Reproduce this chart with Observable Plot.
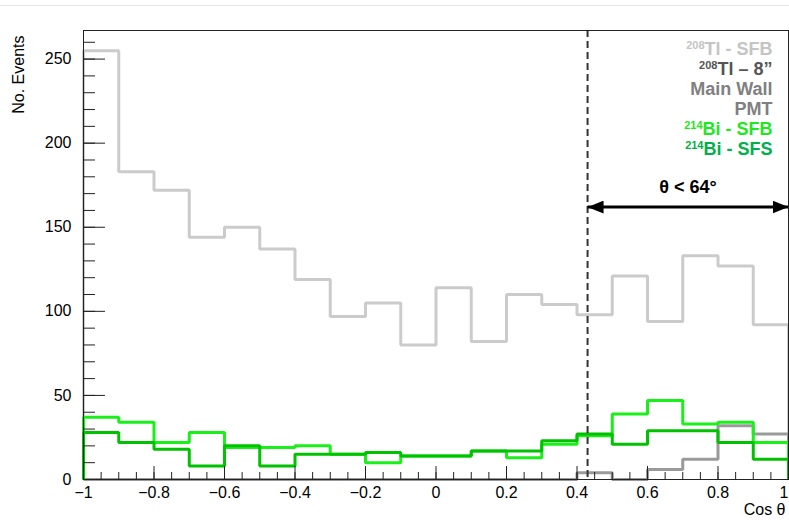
<!DOCTYPE html>
<html><head><meta charset="utf-8">
<script src="https://cdn.jsdelivr.net/npm/d3@7"></script>
<script src="https://cdn.jsdelivr.net/npm/@observablehq/plot@0.6"></script>
<style>
body{margin:0;background:#fff;font-family:"Liberation Sans",Arial,Helvetica,sans-serif;}
#wrap{position:relative;width:789px;height:520px;}
#topline{position:absolute;left:0;top:5px;width:789px;height:0;border-top:1px solid #e6e6e6;}
#chart{position:absolute;left:0;top:0;}
</style></head><body><div id="wrap"><div id="topline"></div><div id="chart"></div></div>
<script>
// Bin lower edges (cos theta), 20 bins of width 0.1
const binLow = [-1,-0.9,-0.8,-0.7,-0.6,-0.5,-0.4,-0.3,-0.2,-0.1,0,0.1,0.2,0.3,0.4,0.5,0.6,0.7,0.8,0.9];
// Series values (No. Events)
const tlSFB = [255,183,172,144,150,137,119,97,105,80,114,82,110,104,98,121,94,133,127,92];
const tl8in = [0,0,0,0,0,0,0,0,0,0,0,0,0,0,4,0,6,12,32,27];
const biSFB = [37,34,22,28,19,19,20,15,10,14,14,17,13,21,26,39,47,33,34,22];
const biSFS = [28,22,18,8,20,8,15,15,16,14,14,17,17,23,27,21,29,29,22,12];
// Tick labels
const xMajor = [-1,-0.8,-0.6,-0.4,-0.2,0,0.2,0.4,0.6,0.8,1];
const xTickLabels = ["\u22121","\u22120.8","\u22120.6","\u22120.4","\u22120.2","0","0.2","0.4","0.6","0.8","1"];
const yMajor = [0,50,100,150,200,250];
const yTickLabels = ["0","50","100","150","200","250"];
// Legend
const legendSup = ["208","208","","","214","214"];
const legendMain = ["Tl - SFB","Tl \u2013 8\u201d","Main Wall","PMT","Bi - SFB","Bi - SFS"];
const legendColor = ["#c4c4c4","#555555","#808080","#7f7f7f","#1ee81e","#00b04a"];
// Annotation
const cutCos = 0.43;
const arrowLevel = 162;
const arrowLabel = "\u03b8 < 64\u00b0";

const xMinor = d3.range(-20, 21).map(k => k * 0.05);
const yMinor = d3.range(0, 27).map(k => k * 10);
const xLabelMap = new Map(xMajor.map((d, i) => [d, xTickLabels[i]]));
const yLabelMap = new Map(yMajor.map((d, i) => [d, yTickLabels[i]]));

function histPoints(vals) {
  return [{x: -1, y: 0}, ...binLow.map((b, i) => ({x: b, y: vals[i]})), {x: 1, y: 0}];
}

const W = 789, H = 520, mL = 83, mR = 1, mT = 30, mB = 41;
const fw = W - mL - mR, fh = H - mT - mB;

function arrowHead(color) {
  const ns = "http://www.w3.org/2000/svg";
  const m = document.createElementNS(ns, "marker");
  m.setAttribute("viewBox", "-16 -6.5 16 13");
  m.setAttribute("refX", "0");
  m.setAttribute("refY", "0");
  m.setAttribute("markerWidth", "16");
  m.setAttribute("markerHeight", "13");
  m.setAttribute("markerUnits", "userSpaceOnUse");
  m.setAttribute("orient", "auto-start-reverse");
  const p = document.createElementNS(ns, "path");
  p.setAttribute("d", "M-16,-6.5L0,0L-16,6.5Z");
  p.setAttribute("fill", "#000");
  p.setAttribute("stroke", "none");
  m.appendChild(p);
  return m;
}

const histStyle = {x: "x", y: "y", curve: "step-after", strokeWidth: 3, strokeLinejoin: "miter", strokeLinecap: "butt"};
const lastX = xMajor[xMajor.length - 1];

const marks = [
  Plot.line(histPoints(tlSFB), {...histStyle, stroke: "#cbcbcb"}),
  Plot.line(histPoints(tl8in), {...histStyle, stroke: "#9a9a9a"}),
  Plot.line(histPoints(biSFB), {...histStyle, stroke: "#19f019"}),
  Plot.line(histPoints(biSFS), {...histStyle, stroke: "#00c200"}),
  Plot.ruleX([cutCos], {stroke: "#333", strokeWidth: 2, strokeDasharray: "7,4"}),
  Plot.link([0], {x1: () => cutCos, x2: () => 1, y1: () => arrowLevel, y2: () => arrowLevel,
    stroke: "#000", strokeWidth: 3, markerStart: arrowHead, markerEnd: arrowHead}),
  Plot.text([arrowLabel], {x: () => (cutCos + 1) / 2, y: () => arrowLevel, dy: -20, fontWeight: "bold", fontSize: 18, fill: "#000"}),
  Plot.frame({stroke: "#222", strokeWidth: 1}),
  Plot.tickX(xMinor, {x: d => d, insetTop: fh - 7, stroke: "#222"}),
  Plot.tickX(xMajor, {x: d => d, insetTop: fh - 13, stroke: "#222"}),
  Plot.tickY(yMinor, {y: d => d, insetRight: fw - 12, stroke: "#222"}),
  Plot.tickY(yMajor, {y: d => d, insetRight: fw - 22, stroke: "#222"}),
  Plot.axisX(xMajor.slice(0, -1), {tickSize: 0, tickPadding: 7, tickFormat: d => xLabelMap.get(d), label: null, fontSize: 16}),
  Plot.text([lastX], {x: d => d, text: d => xLabelMap.get(d), frameAnchor: "bottom", dy: 7, lineAnchor: "top", textAnchor: "end", fontSize: 16, fill: "#000"}),
  Plot.axisY(yMajor, {tickSize: 0, tickPadding: 12, tickFormat: d => yLabelMap.get(d), label: null, fontSize: 16}),
  Plot.text(["No. Events"], {frameAnchor: "top-left", dx: -65, dy: 5, rotate: -90, textAnchor: "end", lineAnchor: "middle", fontSize: 16, fill: "#000"}),
  Plot.text(["Cos \u03b8"], {frameAnchor: "bottom-right", dx: -3, dy: 30, textAnchor: "end", lineAnchor: "middle", fontSize: 16, fill: "#000"}),
  ...legendMain.map((t, i) => Plot.text([t], {frameAnchor: "top-right", dx: -16, dy: 19 + 20 * i, textAnchor: "end", lineAnchor: "middle",
    fill: legendColor[i], fontWeight: "bold", fontSize: 18, className: "legend-item"}))
];

const chart = Plot.plot({
  width: W, height: H,
  marginLeft: mL, marginRight: mR, marginTop: mT, marginBottom: mB,
  x: {domain: [-1, 1]},
  y: {domain: [0, 267]},
  style: {fontFamily: "'Liberation Sans', Arial, Helvetica, sans-serif", fontSize: "16px", color: "#000", background: "transparent"},
  marks
});
document.getElementById("chart").appendChild(chart);

// superscript mass numbers in the legend
d3.select(chart).selectAll("g.legend-item text").each(function(_, j) {
  const sup = legendSup[j];
  if (!sup) return;
  const t = d3.select(this);
  const main = t.text();
  t.text(null);
  t.append("tspan").attr("font-size", 11).attr("dy", -6).text(sup);
  t.append("tspan").attr("dy", 6).text(main);
});
</script>
</body></html>
